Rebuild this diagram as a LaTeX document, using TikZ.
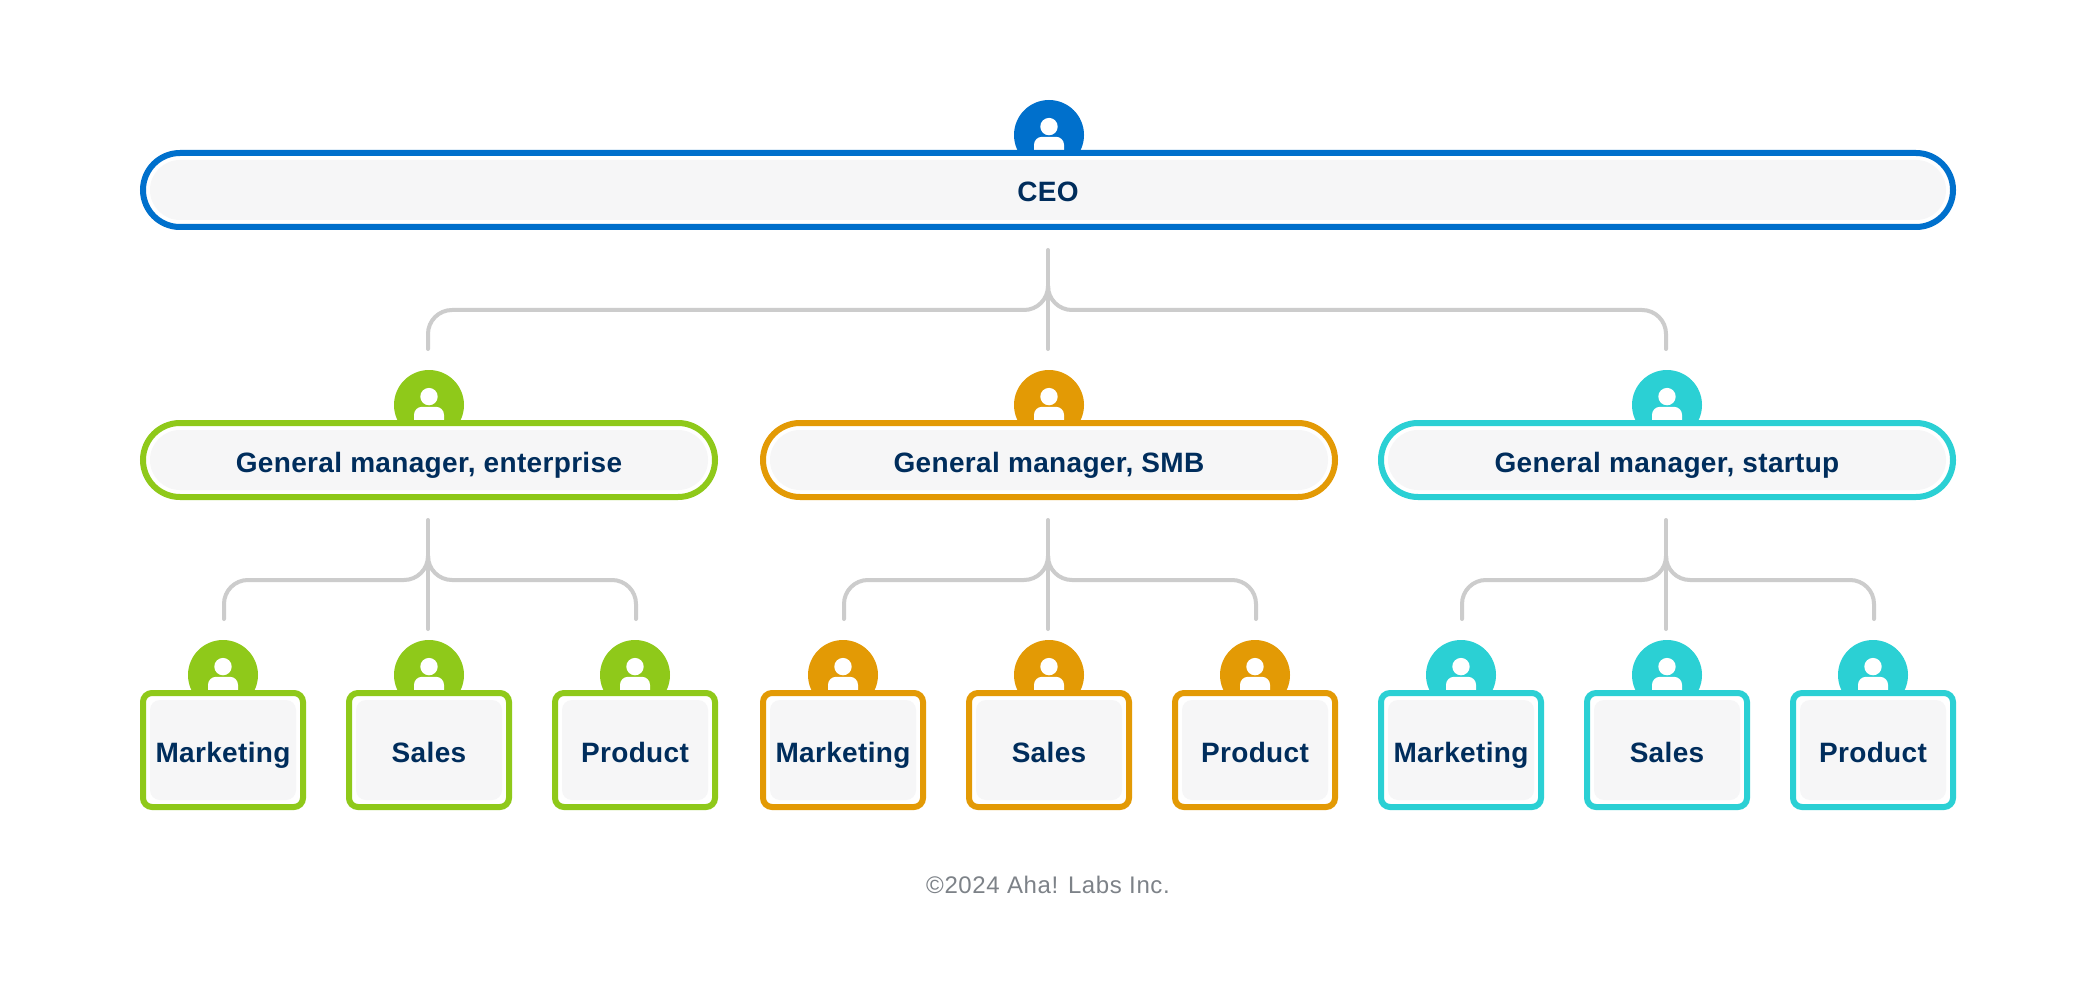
\documentclass[tikz,border=0pt]{standalone}
\usepackage{fontspec}
\setmainfont{Liberation Sans}
\newfontfamily\cardfont[LetterSpace=1.2]{Liberation Sans}
\newfontfamily\footfont[LetterSpace=2.6]{Liberation Sans}
\definecolor{ceoblue}{HTML}{0070CC}
\definecolor{mgreen}{HTML}{8FC91A}
\definecolor{morange}{HTML}{E39A05}
\definecolor{mcyan}{HTML}{2BD0D4}
\definecolor{inktext}{HTML}{002D5C}
\definecolor{fillgrey}{HTML}{F6F6F7}
\definecolor{linkgrey}{HTML}{CCCCCC}
\definecolor{footgrey}{HTML}{7D8288}
\tikzset{
  avatar/.style={circle,fill=#1,minimum size=70pt,inner sep=0pt,outer sep=0pt},
  avatarpart/.style={fill=white,draw=none},
  cardline/.style={draw=#1,fill=white,line width=6pt,outer sep=3pt,inner sep=0pt},
  cardfill/.style={fill=fillgrey,inner sep=0pt,outer sep=0pt,text=inktext,
    font=\cardfont\fontsize{28}{30}\selectfont\bfseries,text height=24pt,text depth=0pt,align=center},
  pillline/.style={cardline=#1,rounded corners=37pt,minimum height=74pt},
  pillfill/.style={cardfill,rounded corners=30pt,minimum height=60pt},
  boxline/.style={cardline=#1,rounded corners=9pt,minimum width=160pt,minimum height=114pt},
  boxfill/.style={cardfill,rounded corners=10pt,minimum width=146pt,minimum height=100pt},
  link/.style={draw=linkgrey,line width=4pt,line cap=round,line join=round},
  branch/.style={link,rounded corners=24pt},
  footer/.style={text=footgrey,font=\footfont\fontsize{24}{26}\selectfont,inner sep=0pt}
}
% name, colour, centre x, top of the card (y)
\newcommand{\personat}[4]{%
  \node[avatar=#2] (#1) at (#3,#4-15) {};
  \fill[avatarpart] (#3,#4-23.4) circle (8.7pt);
  \fill[avatarpart,rounded corners=8pt] (#3-15,#4+12) rectangle (#3+15,#4-13.2);
}
% name, colour, avatar x, card x, top y, width, text
\newcommand{\pillcard}[7]{%
  \personat{#1p}{#2}{#3}{#5}
  \node[pillline=#2,minimum width=#6-6] (#1) at (#4,#5+40) {};
  \node[pillfill,minimum width=#6-20] (#1t) at (#4,#5+40) {#7};
}
% name, colour, centre x, text
\newcommand{\boxcard}[4]{%
  \personat{#1p}{#2}{#3}{690}
  \node[boxline=#2] (#1) at (#3,750) {};
  \node[boxfill] (#1t) at (#3,750) {#4};
}
\begin{document}
\begin{tikzpicture}[x=1pt,y=-1pt]
\useasboundingbox[fill=white] (0,0) rectangle (2096,1000);

\pillcard{ceo}{ceoblue}{1049}{1048}{150}{1816}{CEO}
\pillcard{gma}{mgreen}{429}{429}{420}{578}{General manager, enterprise}
\pillcard{gmb}{morange}{1049}{1049}{420}{578}{General manager, SMB}
\pillcard{gmc}{mcyan}{1667}{1667}{420}{578}{General manager, startup}

\foreach \g/\c/\off in {a/mgreen/0,b/morange/620,c/mcyan/1238}{
  \boxcard{\g1}{\c}{223+\off}{Marketing}
  \boxcard{\g2}{\c}{429+\off}{Sales}
  \boxcard{\g3}{\c}{635+\off}{Product}
}

% CEO to general managers
\coordinate (cs) at ([yshift=-20pt]ceo.south);
\coordinate (cm) at ([yshift=-60pt]cs);
\coordinate (ca) at ([xshift=-1pt,yshift=21pt]gmap.north);
\coordinate (cb) at ([xshift=-1pt,yshift=21pt]gmbp.north);
\coordinate (cc) at ([xshift=-1pt,yshift=21pt]gmcp.north);
\draw[link] (cs) -- (cb);
\draw[branch] (ca) |- (cm) -- ([yshift=20pt]cm);
\draw[branch] (cc) |- (cm) -- ([yshift=20pt]cm);

% general managers to teams
\foreach \g in {a,b,c}{
  \coordinate (s\g) at ([xshift=-1pt,yshift=-20pt]gm\g.south);
  \coordinate (m\g) at ([yshift=-60pt]s\g);
  \coordinate (l\g) at ([xshift=1pt,yshift=21pt]\g1p.north);
  \coordinate (c\g) at ([xshift=-1pt,yshift=11pt]\g2p.north);
  \coordinate (r\g) at ([xshift=1pt,yshift=21pt]\g3p.north);
  \draw[link] (s\g) -- (c\g);
  \draw[branch] (l\g) |- (m\g) -- ([yshift=20pt]m\g);
  \draw[branch] (r\g) |- (m\g) -- ([yshift=20pt]m\g);
}

\node[footer,anchor=base] (foot) at (1048,893) {©2024 Aha! Labs Inc.};
\end{tikzpicture}
\end{document}
